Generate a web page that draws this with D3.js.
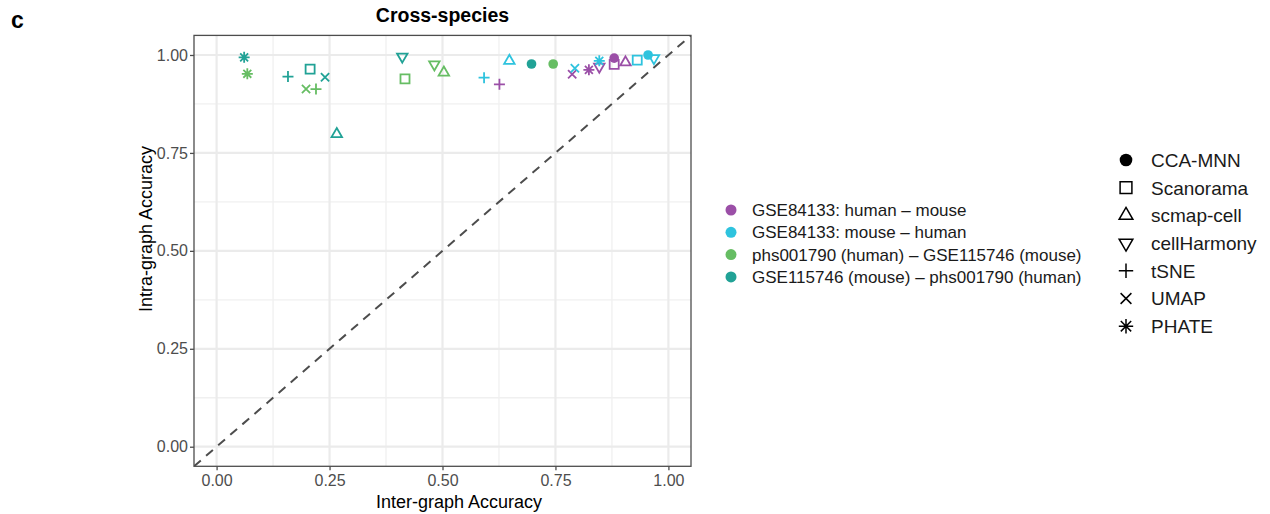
<!DOCTYPE html>
<html>
<head>
<meta charset="utf-8">
<script src="https://cdn.jsdelivr.net/npm/d3@7"></script>
<style>
  body { margin: 0; background: #fff; }
  svg { font-family: "Liberation Sans", Arial, Helvetica, sans-serif; }
</style>
</head>
<body>
<svg id="chart" width="1270" height="514"></svg>
<script>
// method (shape) and dataset (colour) names
const methods = ['CCA-MNN', 'Scanorama', 'scmap-cell', 'cellHarmony', 'tSNE', 'UMAP', 'PHATE'];
const datasets = [
  'GSE84133: human \u2013 mouse',
  'GSE84133: mouse \u2013 human',
  'phs001790 (human) \u2013 GSE115746 (mouse)',
  'GSE115746 (mouse) \u2013 phs001790 (human)'
];
const colors = ['#9b4fa7', '#2ec3de', '#66bd63', '#21a296'];

// values per dataset, in the order of `methods`
const interHumanMouse = [0.880, 0.880, 0.905, 0.847, 0.626, 0.787, 0.824];
const intraHumanMouse = [0.992, 0.976, 0.981, 0.970, 0.925, 0.951, 0.962];
const interMouseHuman = [0.955, 0.931, 0.648, 0.968, 0.592, 0.793, 0.847];
const intraMouseHuman = [1.000, 0.987, 0.985, 0.992, 0.942, 0.966, 0.985];
const interPhsGse = [0.745, 0.417, 0.503, 0.482, 0.220, 0.198, 0.068];
const intraPhsGse = [0.977, 0.939, 0.955, 0.976, 0.913, 0.913, 0.952];
const interGsePhs = [0.697, 0.207, 0.266, 0.411, 0.158, 0.240, 0.061];
const intraGsePhs = [0.977, 0.964, 0.798, 0.996, 0.945, 0.943, 0.994];

const tickValues = [0, 0.25, 0.5, 0.75, 1];
const minorValues = [0.125, 0.375, 0.625, 0.875];

const interSets = [interHumanMouse, interMouseHuman, interPhsGse, interGsePhs];
const intraSets = [intraHumanMouse, intraMouseHuman, intraPhsGse, intraGsePhs];

const points = [];
datasets.forEach((ds, di) => {
  methods.forEach((m, mi) => {
    points.push({ dataset: di, method: mi, x: interSets[di][mi], y: intraSets[di][mi] });
  });
});

const MARGINS = { left: 194, right: 1270 - 691, top: 35.4, bottom: 514 - 466.3 };
const width = 1270, height = 514;
const svg = d3.select('#chart');

const scaleX = d3.scaleLinear().domain([-0.05, 1.05]).range([MARGINS.left, width - MARGINS.right]);
const scaleY = d3.scaleLinear().domain([-0.05, 1.05]).range([height - MARGINS.bottom, MARGINS.top]);

// shape paths, s = half size
function shapePath(k, s) {
  const p = d3.path();
  if (k === 0) {
    p.arc(0, 0, s * 0.88, 0, 2 * Math.PI);
  } else if (k === 1) {
    const h = s * 0.82;
    p.rect(-h, -h, 2 * h, 2 * h);
  } else if (k === 2 || k === 3) {
    const dir = k === 2 ? 1 : -1;
    const r = s * 1.1;
    p.moveTo(0, -r * dir);
    p.lineTo(r * 0.866, r * 0.5 * dir);
    p.lineTo(-r * 0.866, r * 0.5 * dir);
    p.closePath();
  } else if (k === 4) {
    p.moveTo(-s, 0); p.lineTo(s, 0);
    p.moveTo(0, -s); p.lineTo(0, s);
  } else if (k === 5) {
    const d = s * 0.75;
    p.moveTo(-d, -d); p.lineTo(d, d);
    p.moveTo(-d, d); p.lineTo(d, -d);
  } else {
    const d = s * 0.72;
    p.moveTo(-s, 0); p.lineTo(s, 0);
    p.moveTo(0, -s); p.lineTo(0, s);
    p.moveTo(-d, -d); p.lineTo(d, d);
    p.moveTo(-d, d); p.lineTo(d, -d);
  }
  return p.toString();
}

// panel background + grid
const panel = svg.append('g').attr('class', 'panel');
panel.append('rect')
  .attr('x', scaleX(-0.05)).attr('y', scaleY(1.05))
  .attr('width', scaleX(1.05) - scaleX(-0.05))
  .attr('height', scaleY(-0.05) - scaleY(1.05))
  .attr('fill', '#fff');

panel.selectAll('.minor-x').data(minorValues).join('line')
  .attr('x1', d => scaleX(d)).attr('x2', d => scaleX(d))
  .attr('y1', scaleY(1.05)).attr('y2', scaleY(-0.05))
  .attr('stroke', '#f0f0f0').attr('stroke-width', 1.3);
panel.selectAll('.minor-y').data(minorValues).join('line')
  .attr('y1', d => scaleY(d)).attr('y2', d => scaleY(d))
  .attr('x1', scaleX(-0.05)).attr('x2', scaleX(1.05))
  .attr('stroke', '#f0f0f0').attr('stroke-width', 1.3);
panel.selectAll('.major-x').data(tickValues).join('line')
  .attr('x1', d => scaleX(d)).attr('x2', d => scaleX(d))
  .attr('y1', scaleY(1.05)).attr('y2', scaleY(-0.05))
  .attr('stroke', '#ebebeb').attr('stroke-width', 2.2);
panel.selectAll('.major-y').data(tickValues).join('line')
  .attr('y1', d => scaleY(d)).attr('y2', d => scaleY(d))
  .attr('x1', scaleX(-0.05)).attr('x2', scaleX(1.05))
  .attr('stroke', '#ebebeb').attr('stroke-width', 2.2);

// diagonal y = x
svg.append('clipPath').attr('id', 'clip').append('rect')
  .attr('x', scaleX(-0.05)).attr('y', scaleY(1.05))
  .attr('width', scaleX(1.05) - scaleX(-0.05))
  .attr('height', scaleY(-0.05) - scaleY(1.05));
svg.append('line')
  .attr('clip-path', 'url(#clip)')
  .attr('x1', scaleX(-0.05)).attr('y1', scaleY(-0.05))
  .attr('x2', scaleX(1.05)).attr('y2', scaleY(1.05))
  .attr('stroke', '#4d4d4d').attr('stroke-width', 2)
  .attr('stroke-dasharray', '9,7');

// points
svg.append('g').attr('class', 'points')
  .selectAll('path').data(points).join('path')
  .attr('transform', d => `translate(${scaleX(d.x)},${scaleY(d.y)})`)
  .attr('d', d => shapePath(d.method, 5.5))
  .attr('fill', d => d.method === 0 ? colors[d.dataset] : 'none')
  .attr('stroke', d => colors[d.dataset])
  .attr('stroke-width', d => d.method === 0 ? 0 : 1.8);

// panel border
svg.append('rect')
  .attr('x', scaleX(-0.05)).attr('y', scaleY(1.05))
  .attr('width', scaleX(1.05) - scaleX(-0.05))
  .attr('height', scaleY(-0.05) - scaleY(1.05))
  .attr('fill', 'none').attr('stroke', '#4d4d4d').attr('stroke-width', 1.3);

// axes
const fmt = d3.format('.2f');
const axisX = svg.append('g')
  .attr('transform', `translate(0,${scaleY(-0.05)})`)
  .call(d3.axisBottom(scaleX).tickValues(tickValues).tickFormat(fmt).tickSize(4).tickPadding(4));
const axisY = svg.append('g')
  .attr('transform', `translate(${scaleX(-0.05)},0)`)
  .call(d3.axisLeft(scaleY).tickValues(tickValues).tickFormat(fmt).tickSize(4).tickPadding(2));
[axisX, axisY].forEach(ax => {
  ax.select('.domain').remove();
  ax.selectAll('line').attr('stroke', '#4d4d4d').attr('stroke-width', 1.3);
  ax.selectAll('text').attr('fill', '#4d4d4d').attr('font-size', 16)
    .attr('font-family', '"Liberation Sans", Arial, sans-serif');
});

// titles
svg.append('text').attr('x', scaleX(0.5)).attr('y', 22)
  .attr('text-anchor', 'middle').attr('font-size', 19.5).attr('font-weight', 'bold')
  .text('Cross-species');
svg.append('text').attr('x', 11).attr('y', 28)
  .attr('font-size', 23).attr('font-weight', 'bold').text('c');
svg.append('text').attr('x', 459).attr('y', 508)
  .attr('text-anchor', 'middle').attr('font-size', 18).text('Inter-graph Accuracy');
svg.append('text')
  .attr('transform', `translate(152,229) rotate(-90)`)
  .attr('text-anchor', 'middle').attr('font-size', 18).text('Intra-graph Accuracy');

// colour legend
const legColor = svg.append('g').attr('transform', 'translate(731,210)');
legColor.selectAll('circle').data(datasets).join('circle')
  .attr('cx', 0).attr('cy', (d, i) => i * 22.3).attr('r', 5.5)
  .attr('fill', (d, i) => colors[i]);
legColor.selectAll('text').data(datasets).join('text')
  .attr('x', 21).attr('y', (d, i) => i * 22.3 + 6)
  .attr('font-size', 17).attr('fill', '#1a1a1a').text(d => d);

// shape legend
const legShape = svg.append('g').attr('transform', 'translate(1126,160)');
legShape.selectAll('path').data(methods).join('path')
  .attr('transform', (d, i) => `translate(0,${i * 27.7})`)
  .attr('d', (d, i) => shapePath(i, 7.2))
  .attr('fill', (d, i) => i === 0 ? '#000' : 'none')
  .attr('stroke', '#000').attr('stroke-width', (d, i) => i === 0 ? 0 : 1.5);
legShape.selectAll('text').data(methods).join('text')
  .attr('x', 25).attr('y', (d, i) => i * 27.7 + 6.8)
  .attr('font-size', 19).attr('fill', '#1a1a1a').text(d => d);
</script>
</body>
</html>
